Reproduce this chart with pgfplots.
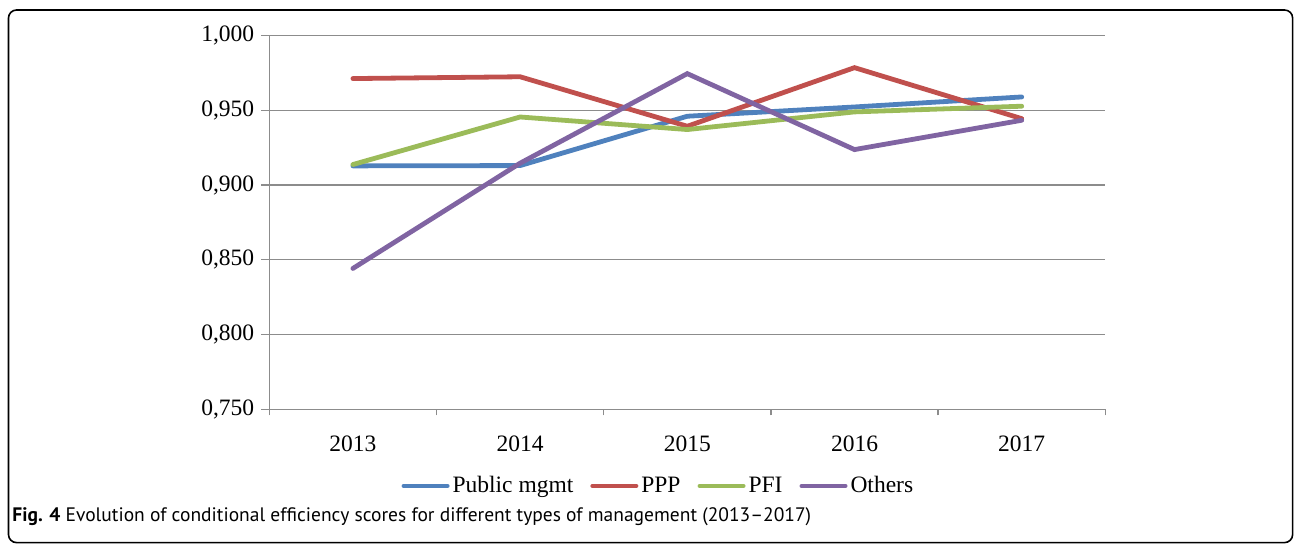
\documentclass[border=0pt]{standalone}
\usepackage{fontspec}
\setmainfont{Liberation Serif}
\newfontfamily\capfont{PT Sans}
\usepackage{pgfplots}
\pgfplotsset{compat=1.18}
\definecolor{sBlue}{HTML}{4F81BD}
\definecolor{sRed}{HTML}{C0504D}
\definecolor{sGreen}{HTML}{9BBB59}
\definecolor{sPurple}{HTML}{8064A2}
\definecolor{axGray}{HTML}{8C8C8C}

\begin{document}
\begin{tikzpicture}
\useasboundingbox (0,0) rectangle (647.5pt,272.5pt);
\draw[line width=0.8pt, rounded corners=4pt] (4.25pt,1.2pt) rectangle (646.3pt,267.5pt);
\node[anchor=base west, inner sep=0pt, font=\capfont\fontsize{9.75}{12}\selectfont] at (6pt,11.5pt)
  {\textbf{Fig. 4} Evolution of conditional efficiency scores for different types of management (2013\textendash 2017)};
\begin{axis}[
    at={(134.65pt,67.85pt)}, anchor=south west,
    scale only axis, width=418pt, height=186.9pt,
    xmin=0, xmax=5, ymin=0.75, ymax=1.0,
    axis lines*=left,
    axis line style={axGray, line width=0.7pt},
    tick style={axGray, line width=0.7pt},
    tick align=outside,
    ytick={0.75,0.8,...,1.0},
    ymajorgrids=true,
    grid style={axGray, line width=0.7pt},
    major tick length=4pt,
    xtick={0.5,1.5,2.5,3.5,4.5},
    xticklabels={2013,2014,2015,2016,2017},
    x tick style={draw=none},
    minor xtick={0,1,2,3,4,5},
    minor tick length=3pt,
    minor x tick style={axGray, line width=0.7pt, draw=axGray},
    ticklabel style={font=\fontsize{11.75}{14}\selectfont},
    xticklabel style={yshift=-6pt},
    /pgf/number format/assume math mode=true,
    yticklabel style={/pgf/number format/.cd, fixed, fixed zerofill, precision=3, use comma},
    legend style={at={(0.466,-0.205)}, anchor=center, draw=none, fill=none,
        font=\fontsize{11.75}{14}\selectfont, legend columns=4,
        nodes={inner xsep=1.5pt},
        /tikz/every even column/.append style={column sep=7pt}},
    legend image code/.code={\draw[#1, line width=2pt, line cap=round] (0pt,0pt) -- (22pt,0pt);},
    every axis plot/.append style={line width=2.4pt, line cap=round, line join=miter, mark=none},
    clip=false,
]
\addplot[sBlue] coordinates {(0.5,0.9128) (1.5,0.9130) (2.5,0.9460) (3.5,0.9522) (4.5,0.9589)};
\addlegendentry{Public mgmt}
\addplot[sRed] coordinates {(0.5,0.9712) (1.5,0.9724) (2.5,0.9393) (3.5,0.9785) (4.5,0.9444)};
\addlegendentry{PPP}
\addplot[sGreen] coordinates {(0.5,0.9137) (1.5,0.9455) (2.5,0.9371) (3.5,0.9489) (4.5,0.9527)};
\addlegendentry{PFI}
\addplot[sPurple] coordinates {(0.5,0.8442) (1.5,0.9146) (2.5,0.9745) (3.5,0.9237) (4.5,0.9433)};
\addlegendentry{Others}
\end{axis}
\end{tikzpicture}
\end{document}
